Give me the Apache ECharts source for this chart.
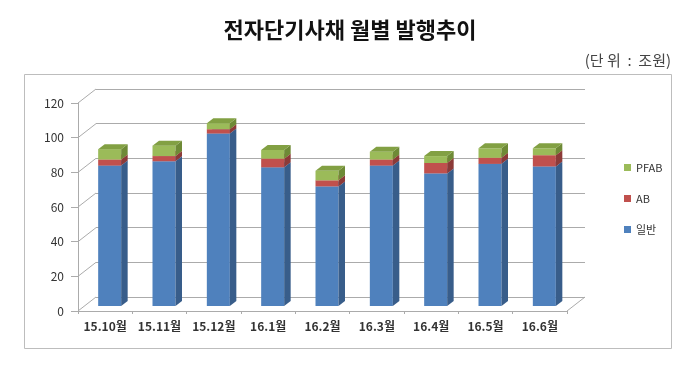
<!DOCTYPE html>
<html><head><meta charset="utf-8">
<script src="https://cdn.jsdelivr.net/npm/echarts@6/dist/echarts.min.js"></script>
<style>html,body{margin:0;padding:0;background:#fff}#c{width:700px;height:373px}</style>
</head><body><div id="c"></div>
<script>
const categories = ['15.10월','15.11월','15.12월','16.1월','16.2월','16.3월','16.4월','16.5월','16.6월'];
const general = [81, 83.5, 99.5, 80, 69, 81, 76.5, 82, 80.5];   // 일반
const ab      = [3.5, 3, 2.5, 5, 3.5, 3.5, 6, 3.5, 6.5];         // AB
const pfab    = [6, 6, 3.5, 5, 5.5, 4.5, 4, 5.5, 4];             // PFAB
const yTicks  = [0, 20, 40, 60, 80, 100, 120];

const FONT = '"Noto Sans CJK KR", "Noto Sans", sans-serif';
const DEPTH_X = 18, DEPTH_Y = 14;     // back wall offset
const BAR_OFF_X = 4.5, BAR_OFF_Y = -5; // bar position inside depth
const BAR_W = 23, BAR_DX = 6.5, BAR_DY = 5;

const seriesDefs = [
  {name:'일반', vals:general, front:'#4F81BD', side:'#385D8A', top:'#6A93C8'},
  {name:'AB',   vals:ab,      front:'#C0504D', side:'#8C3A38', top:'#CF6B68'},
  {name:'PFAB', vals:pfab,    front:'#9BBB59', side:'#6E8A36', top:'#82A043'}
];

function stackedData(idx){
  return categories.map((c,i)=>{
    let base = 0;
    for(let k=0;k<idx;k++) base += seriesDefs[k].vals[i];
    return [i, base, base + seriesDefs[idx].vals[i]];
  });
}

function barRender(def){
  return function(params, api){
    const i = api.value(0);
    const p0 = api.coord([i, api.value(1)]);
    const p1 = api.coord([i, api.value(2)]);
    const x0 = p0[0] + BAR_OFF_X - BAR_W/2;
    const yb = p0[1] + BAR_OFF_Y;
    const yt = p1[1] + BAR_OFF_Y;
    const x1 = x0 + BAR_W;
    return {type:'group', children:[
      {type:'rect', shape:{x:x0, y:yt, width:BAR_W, height:yb-yt}, style:{fill:def.front}},
      {type:'polygon', shape:{points:[[x1,yb],[x1+BAR_DX,yb-BAR_DY],[x1+BAR_DX,yt-BAR_DY],[x1,yt]]}, style:{fill:def.side}},
      {type:'polygon', shape:{points:[[x0,yt],[x1,yt],[x1+BAR_DX,yt-BAR_DY],[x0+BAR_DX,yt-BAR_DY]]}, style:{fill:def.top}}
    ]};
  };
}

const GRID_LINE = '#ababab';

const series = seriesDefs.map((d,idx)=>({
  name:d.name, type:'custom', xAxisIndex:0, yAxisIndex:0,
  itemStyle:{color:d.front},
  renderItem: barRender(d),
  encode:{x:0, y:[1,2]},
  data: stackedData(idx),
  z: 5
}));

// diagonal connectors + floor right edge
series.push({
  type:'custom', xAxisIndex:0, yAxisIndex:0, silent:true, z:2,
  data: yTicks.map(v=>[0, v]),
  renderItem(params, api){
    const cs = params.coordSys;
    const y = api.coord([0, api.value(1)])[1];
    const children = [{type:'line', shape:{x1:cs.x, y1:y, x2:cs.x+DEPTH_X, y2:y-DEPTH_Y}, style:{stroke:GRID_LINE, lineWidth:1}}];
    if(api.value(1) === 0){
      children.push({type:'line', shape:{x1:cs.x+cs.width, y1:y, x2:cs.x+cs.width+DEPTH_X, y2:y-DEPTH_Y}, style:{stroke:GRID_LINE, lineWidth:1}});
    }
    return {type:'group', children};
  }
});

const option = {
  animation:false,
  backgroundColor:'#fff',
  textStyle:{fontFamily:FONT},
  title:[
    {text:'전자단기사채 월별 발행추이', left:'center', top:14, textStyle:{fontFamily:FONT, fontSize:22, fontWeight:'bold', color:'#111'}},
    {text:'(단 위  :  조원)', right:29, top:53, padding:0, textStyle:{fontFamily:FONT, fontSize:15, fontWeight:'normal', color:'#444'}}
  ],
  graphic:[
    {type:'rect', shape:{x:24.5, y:74.5, width:647, height:274}, style:{fill:'none', stroke:'#bdbdbd', lineWidth:1}, z:0, silent:true}
  ],
  legend:{
    orient:'vertical', left:619, top:157, itemWidth:7, itemHeight:7, itemGap:20, icon:'rect',
    data:['PFAB','AB','일반'],
    textStyle:{fontFamily:FONT, fontSize:11, color:'#333'},
    selectedMode:false
  },
  grid:[
    {left:78, right:133, top:103, bottom:62},
    {left:78+DEPTH_X, right:133-DEPTH_X, top:103-DEPTH_Y, bottom:62+DEPTH_Y}
  ],
  xAxis:[
    {type:'category', gridIndex:0, data:categories,
      axisLine:{show:true, lineStyle:{color:GRID_LINE, width:1}},
      axisTick:{show:true, length:3, lineStyle:{color:GRID_LINE}},
      axisLabel:{fontFamily:FONT, fontSize:12, fontWeight:'bold', color:'#333', margin:9, interval:0},
      splitLine:{show:false}},
    {type:'category', gridIndex:1, data:categories, show:false}
  ],
  yAxis:[
    {type:'value', gridIndex:0, min:0, max:120, interval:20,
      axisLine:{show:true, lineStyle:{color:GRID_LINE, width:1}},
      axisTick:{show:true, length:7, lineStyle:{color:GRID_LINE}},
      axisLabel:{fontFamily:FONT, fontSize:12, color:'#333', margin:14},
      splitLine:{show:false}},
    {type:'value', gridIndex:1, min:0, max:120, interval:20,
      axisLine:{show:false}, axisTick:{show:false}, axisLabel:{show:false},
      splitLine:{show:true, lineStyle:{color:GRID_LINE, width:1}}}
  ],
  series
};
const chart = echarts.init(document.getElementById('c'), null, {renderer:'canvas'});
chart.setOption(option);
</script></body></html>
